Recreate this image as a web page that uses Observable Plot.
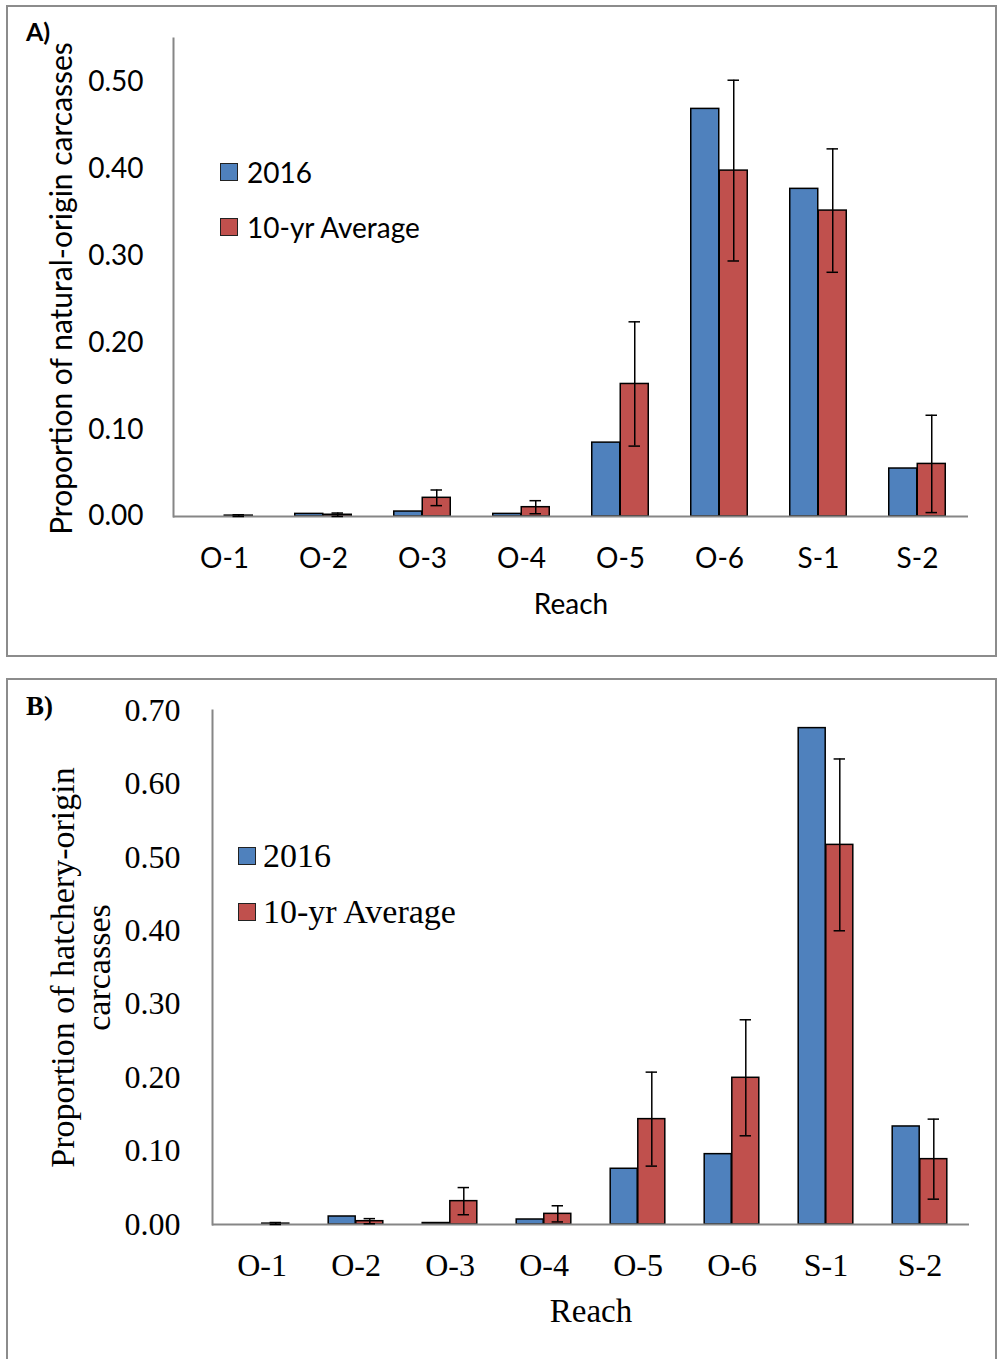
<!DOCTYPE html>
<html><head><meta charset="utf-8">
<script src="https://cdn.jsdelivr.net/npm/d3@7"></script>
<script src="https://cdn.jsdelivr.net/npm/@observablehq/plot@0.6"></script>
<style>
html,body{margin:0;padding:0;background:#fff;}
#page{position:relative;width:998px;height:1359px;overflow:hidden;background:#fff;}
.panel{position:absolute;border:2px solid #8c8c8c;box-sizing:border-box;}
.tag{position:absolute;font-weight:bold;color:#000;white-space:nowrap;}
.legend{position:absolute;display:flex;flex-direction:column;color:#000;}
.legend .item{display:flex;align-items:center;white-space:nowrap;}
.legend .sw{display:inline-block;width:18px;height:18px;border:1px solid #222;box-sizing:border-box;}
.chart{position:absolute;left:0;}
.chart svg{overflow:visible;}
</style></head>
<body><div id="page"></div>
<script>
// ---- data ----
const reaches = ["O-1","O-2","O-3","O-4","O-5","O-6","S-1","S-2"];
const seriesNames = ["2016","10-yr Average"];
const seriesColors = ["#4F81BD","#C0504D"];
const yTicksA = [0, 0.1, 0.2, 0.3, 0.4, 0.5];
const yTicksB = [0, 0.1, 0.2, 0.3, 0.4, 0.5, 0.6, 0.7];

// Panel A: natural-origin carcasses
const natural2016 = [0, 0.003, 0.0057, 0.003, 0.085, 0.469, 0.377, 0.0552];
const naturalAvg  = [0.001, 0.002, 0.0215, 0.0107, 0.1525, 0.398, 0.352, 0.0605];
const naturalErr  = [0.001, 0.002, 0.009, 0.0075, 0.0715, 0.104, 0.071, 0.056];

// Panel B: hatchery-origin carcasses
const hatchery2016 = [0, 0.0109, 0.002, 0.0068, 0.0759, 0.0958, 0.676, 0.1335];
const hatcheryAvg  = [0.0012, 0.0045, 0.0318, 0.0145, 0.1435, 0.1998, 0.517, 0.089];
const hatcheryErr  = [0.0015, 0.0035, 0.0185, 0.011, 0.064, 0.079, 0.117, 0.0545];

// ---- drawing ----
const page = document.getElementById("page");

function rowsFor(cur, avg, err) {
  return {
    cur: reaches.map((r, i) => ({reach: r, series: seriesNames[0], value: cur[i]})),
    avg: reaches.map((r, i) => ({reach: r, series: seriesNames[1], value: avg[i], err: err[i]}))
  };
}

function panel(cfg) {
  const box = document.createElement("div");
  box.className = "panel";
  Object.assign(box.style, cfg.box);
  page.appendChild(box);

  const {cur, avg} = rowsFor(cfg.cur, cfg.avg, cfg.err);
  const range = 998 - cfg.ml - cfg.mr;
  const step = range / reaches.length;
  const pad = 1 - cfg.barW / step;
  const half = cfg.barW / 2;
  const capInset = (cfg.barW - 12) / 2;
  const axisGray = "#868686";

  const chart = Plot.plot({
    width: 998, height: cfg.height,
    marginLeft: cfg.ml, marginRight: cfg.mr, marginTop: cfg.mt, marginBottom: cfg.mb,
    style: {fontFamily: cfg.font, fontSize: cfg.tickSize + "px", color: "#000", background: "transparent"},
    x: {domain: reaches, paddingInner: pad, paddingOuter: pad / 2, label: null, axis: null},
    y: {domain: [0, cfg.ymax], label: null, axis: null},
    color: {domain: seriesNames, range: seriesColors},
    marks: [
      Plot.barY(cur.filter(d => d.value > 0), {x: "reach", y: "value", fill: "series", stroke: "#000", strokeWidth: 1.5, dx: -half}),
      Plot.barY(avg.filter(d => d.value > 0), {x: "reach", y: "value", fill: "series", stroke: "#000", strokeWidth: 1.5, dx: half}),
      Plot.ruleY([0], {stroke: axisGray, strokeWidth: 2}),
      Plot.frame({anchor: "left", stroke: axisGray, strokeWidth: 2}),
      Plot.ruleX(avg, {x: "reach", y1: d => Math.max(0, d.value - d.err), y2: d => d.value + d.err, dx: half, stroke: "#000", strokeWidth: 1.5}),
      Plot.tickY(avg, {x: "reach", y: d => d.value + d.err, dx: half, insetLeft: capInset, insetRight: capInset, stroke: "#000", strokeWidth: 1.5}),
      Plot.tickY(avg, {x: "reach", y: d => Math.max(0, d.value - d.err), dx: half, insetLeft: capInset, insetRight: capInset, stroke: "#000", strokeWidth: 1.5}),
      Plot.axisY(cfg.yTicks, {tickSize: 0, tickPadding: cfg.yPad, tickFormat: d3.format(".2f"), label: null, fontSize: cfg.tickSize}),
      Plot.axisX({tickSize: 0, tickPadding: cfg.xPad, label: null, fontSize: cfg.tickSize}),
      Plot.text([cfg.yLabel], {text: d => d, frameAnchor: "left", textAnchor: "middle", lineAnchor: "middle", rotate: -90, dx: cfg.yLabelDx, dy: cfg.yLabelDy, fontSize: cfg.yLabelSize, lineHeight: cfg.lineHeight, fill: "#000"}),
      Plot.text(["Reach"], {text: d => d, frameAnchor: "bottom", textAnchor: "middle", lineAnchor: "middle", dy: cfg.xLabelDy, fontSize: cfg.labelSize, fill: "#000"})
    ]
  });
  const holder = document.createElement("div");
  holder.className = "chart";
  holder.style.top = cfg.top + "px";
  holder.appendChild(chart);
  page.appendChild(holder);

  const tag = document.createElement("div");
  tag.className = "tag";
  tag.textContent = cfg.tag;
  Object.assign(tag.style, {fontFamily: cfg.font, fontSize: cfg.tagSize + "px", lineHeight: cfg.tagSize + "px", left: cfg.tagLeft + "px", top: cfg.tagTop + "px"});
  page.appendChild(tag);

  const lg = document.createElement("div");
  lg.className = "legend";
  Object.assign(lg.style, {left: cfg.legLeft + "px", top: cfg.legTop + "px", fontFamily: cfg.font, fontSize: cfg.legSize + "px", lineHeight: cfg.legSize + "px", gap: cfg.legGap + "px"});
  seriesNames.forEach((s, i) => {
    const it = document.createElement("div");
    it.className = "item";
    const sw = document.createElement("span");
    sw.className = "sw";
    sw.style.background = seriesColors[i];
    sw.style.marginRight = cfg.swGap + "px";
    const tx = document.createElement("span");
    tx.textContent = s;
    it.appendChild(sw); it.appendChild(tx);
    lg.appendChild(it);
  });
  page.appendChild(lg);
}

panel({
  box: {left: "6px", top: "5px", width: "991px", height: "652px"},
  top: 0, height: 657, ml: 173, mr: 30, mt: 38, mb: 141,
  font: "Lato, 'Open Sans', sans-serif", tickSize: 28, labelSize: 28, yLabelSize: 30, lineHeight: 1,
  cur: natural2016, avg: naturalAvg, err: naturalErr,
  ymax: 0.55, yTicks: yTicksA, barW: 28.5, yPad: 30, xPad: 32,
  yLabel: "Proportion of natural-origin carcasses", yLabelDx: -111, yLabelDy: 11,
  xLabelDy: 89,
  tag: "A)", tagSize: 25, tagLeft: 26, tagTop: 19,
  legLeft: 220, legTop: 158, legSize: 28, legGap: 27, swGap: 9
});

panel({
  box: {left: "6px", top: "678px", width: "991px", height: "700px"},
  top: 660, height: 699, ml: 212, mr: 29, mt: 50, mb: 135,
  font: "'Liberation Serif', 'DejaVu Serif', serif", tickSize: 32, labelSize: 33, yLabelSize: 34, lineHeight: 1.06,
  cur: hatchery2016, avg: hatcheryAvg, err: hatcheryErr,
  ymax: 0.70, yTicks: yTicksB, barW: 27.6, yPad: 32, xPad: 29,
  yLabel: "Proportion of hatchery-origin\ncarcasses", yLabelDx: -132, yLabelDy: 0,
  xLabelDy: 87,
  tag: "B)", tagSize: 27, tagLeft: 26, tagTop: 693,
  legLeft: 238, legTop: 839, legSize: 34, legGap: 22, swGap: 7
});
</script>
</body></html>
